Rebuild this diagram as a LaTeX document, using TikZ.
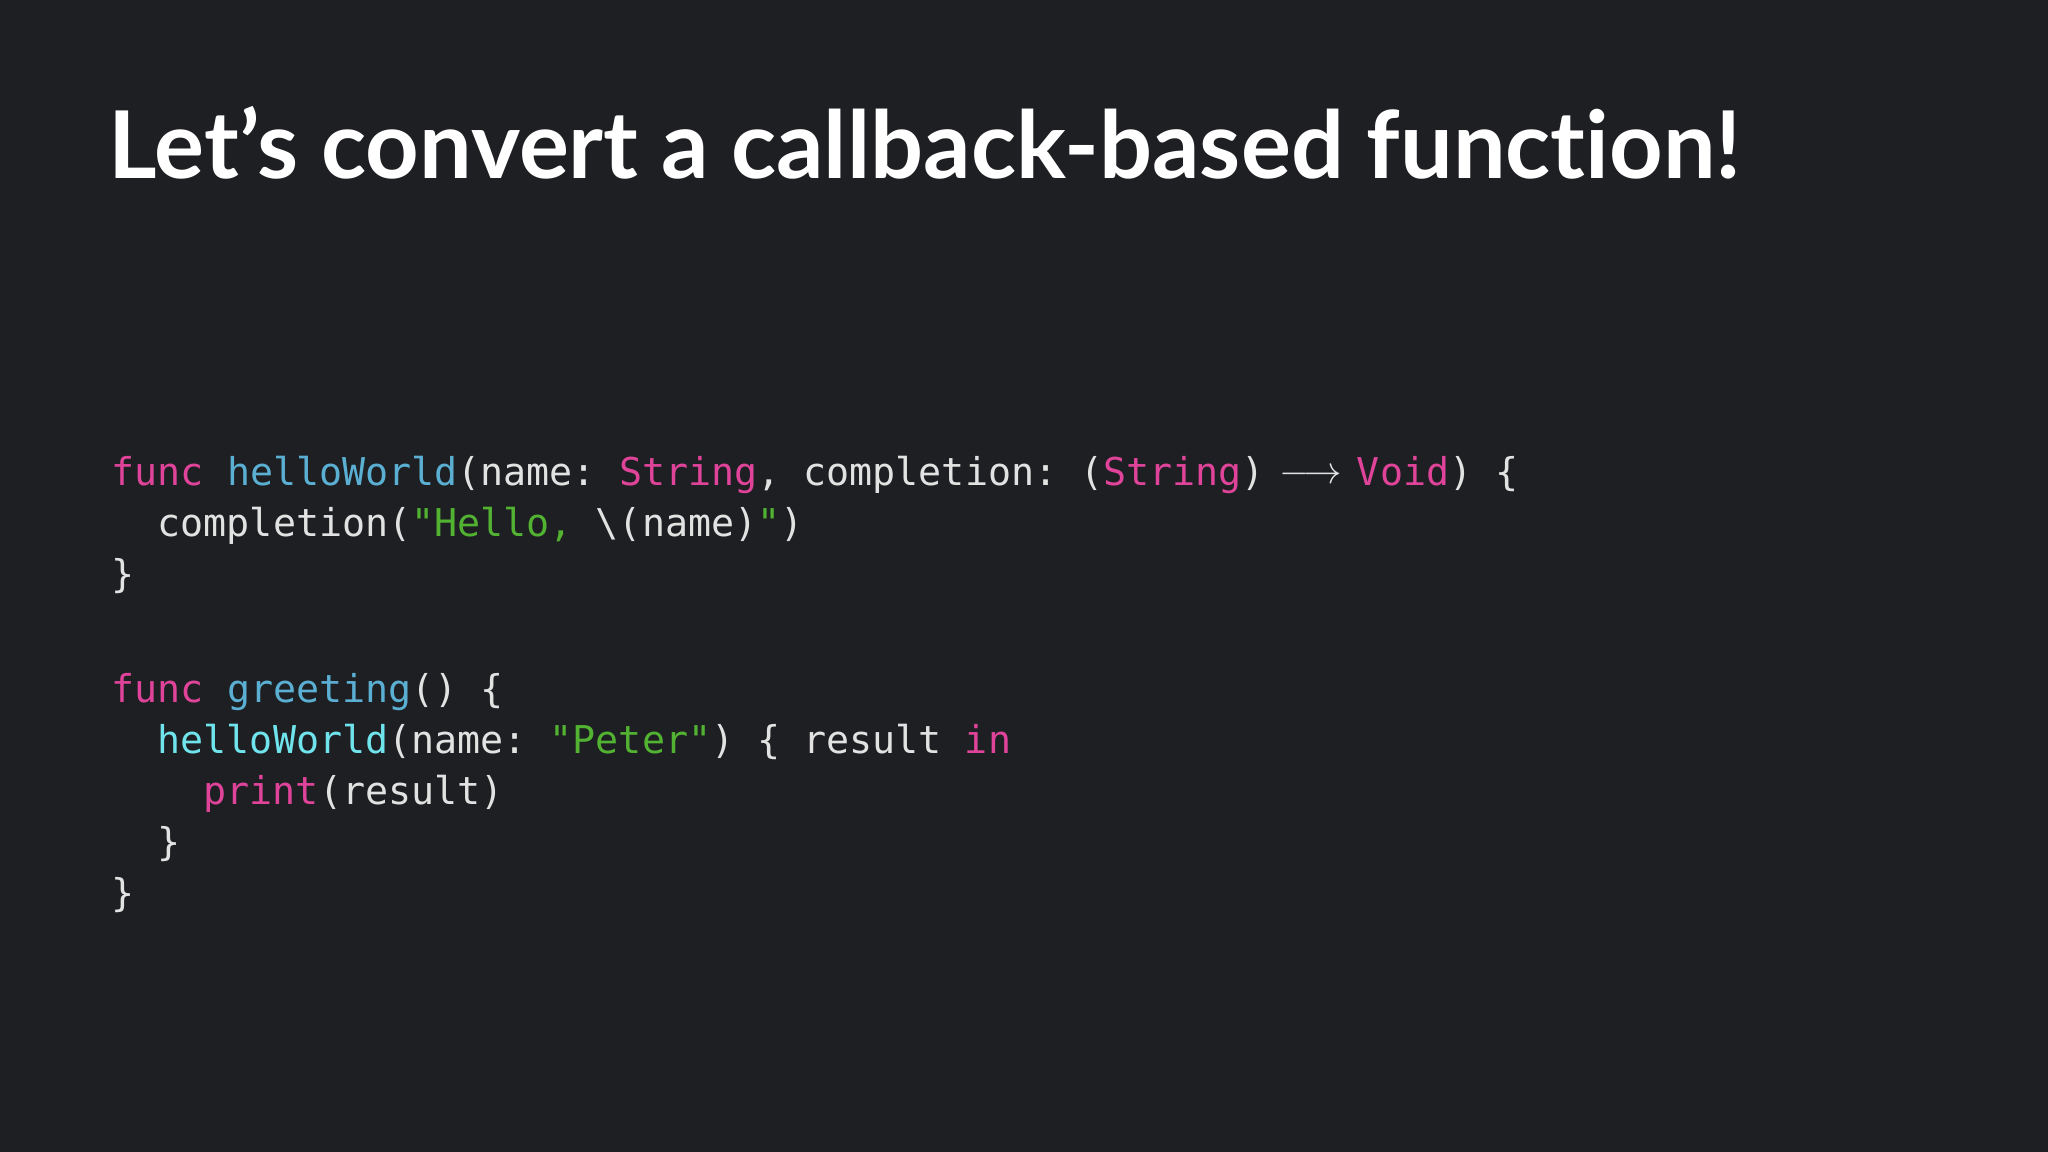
\documentclass[tikz,border=0pt]{standalone}
\usepackage{fontspec}
\setmainfont{Lato}[Ligatures=NoCommon]
\setmonofont{DejaVu Sans Mono}
\definecolor{bg}{HTML}{1E1F22}
\definecolor{kw}{HTML}{E0449A}
\definecolor{fn}{HTML}{5AAFD2}
\definecolor{cl}{HTML}{70E4EC}
\definecolor{st}{HTML}{52B332}
\definecolor{tx}{HTML}{E2E2E2}
\newcommand{\K}[1]{\textcolor{kw}{#1}}
\newcommand{\F}[1]{\textcolor{fn}{#1}}
\newcommand{\C}[1]{\textcolor{cl}{#1}}
\newcommand{\Sg}[1]{\textcolor{st}{#1}}
\begin{document}
\begin{tikzpicture}[x=1cm,y=1cm,
  code/.style={anchor=base west,inner sep=0pt,text=tx,font=\ttfamily\fontsize{10.9pt}{12pt}\selectfont},
  ttl/.style={anchor=base west,inner sep=0pt,text=white,font=\bfseries\fontsize{26.6pt}{30pt}\selectfont}]
\fill[bg] (0,0) rectangle (20.48,11.52);
\useasboundingbox (0,0) rectangle (20.48,11.52);
\node[ttl] (title) at (1.08,9.73) {Let’s convert a callback-based function!};
\node[code] (l1) at (1.11,6.66) {\K{func} \F{helloWorld}(name: \K{String}, completion: (\K{String}) \makebox[1.2em]{\raisebox{0.1ex}{$\longrightarrow$}} \K{Void}) \{};
\node[code] (l2) at (1.57,6.15) {completion(\Sg{"Hello, }\textbackslash(name)\Sg{"})};
\node[code] (l3) at (1.11,5.64) {\}};
\node[code] (l4) at (1.11,4.49) {\K{func} \F{greeting}() \{};
\node[code] (l5) at (1.57,3.98) {\C{helloWorld}(name: \Sg{"Peter"}) \{ result \K{in}};
\node[code] (l6) at (2.03,3.47) {\K{print}(result)};
\node[code] (l7) at (1.57,2.96) {\}};
\node[code] (l8) at (1.11,2.45) {\}};
\end{tikzpicture}
\end{document}
